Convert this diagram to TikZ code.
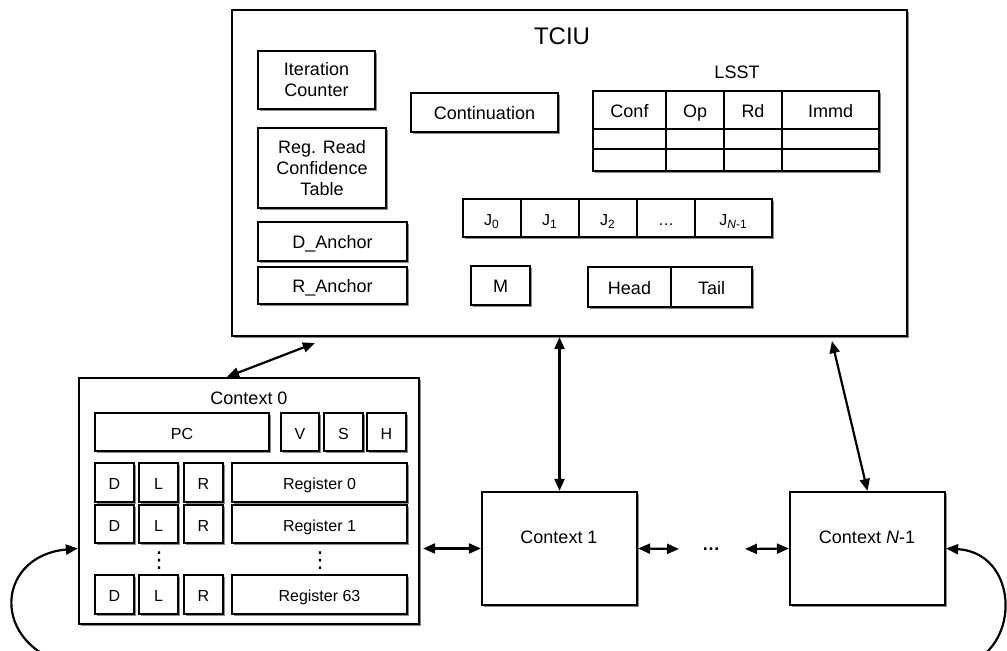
\documentclass[tikz,border=0pt]{standalone}
\usepackage{fontspec}
\setmainfont{Liberation Sans}
\newfontfamily\symfont{DejaVu Sans}
\usetikzlibrary{arrows.meta}
\usetikzlibrary{shadows}
\usetikzlibrary{calc}

\tikzset{
  blk/.style={draw, line width=1.1pt, fill=white, inner sep=0pt, align=center,
              font=\fontsize{9}{10.5}\selectfont, text height=1.38ex, text depth=0pt,
              drop shadow={shadow xshift=0.9pt, shadow yshift=-0.9pt, fill=black!45, opacity=1}},
  multi/.style={text height={}, text depth={}},
  cell/.style={blk, line width=0.8pt},
  bw/.style={minimum width=#1},
  bh/.style={minimum height=#1},
  reg/.style={font=\fontsize{8}{9.5}\selectfont},
  lbl/.style={inner sep=0pt, font=\fontsize{9}{10.5}\selectfont},
  lnk/.style={line width=1.1pt, {Triangle[length=6pt,width=5pt]}-{Triangle[length=6pt,width=5pt]}},
}

\begin{document}
\begin{tikzpicture}[x=0.5pt, y=-0.5pt]
\useasboundingbox (0,0) rectangle (1007,651);

\node[blk, bw=337.5pt, bh=163pt]  (tciu)  at (569.5,173)   {};
\node[lbl, font=\fontsize{12}{14}\selectfont] (tciulbl) at (562,36) {TCIU};
\node[blk, multi, bw=58.5pt, bh=29pt] (itc)  at (316.5,80) {Iteration\\Counter};
\node[blk, bw=73.5pt, bh=19.5pt]  (cont)  at (484.5,112.5) {Continuation};
\node[blk, multi, bw=64pt, bh=40pt]   (rrct) at (322,168)  {Reg. Read\\Confidence\\Table};
\node[blk, bw=74.5pt, bh=19.5pt]  (danc)  at (332.5,241.5) {D\_Anchor};
\node[blk, bw=74.5pt, bh=18.5pt]  (ranc)  at (332.5,285.5) {R\_Anchor};
\node[blk, bw=29.5pt, bh=19.5pt]  (m)     at (500.5,285.5) {M};
\node[blk, bw=41.5pt, bh=20pt]    (head)  at (629.5,287)   {Head};
\node[blk, bw=40.5pt, bh=20pt]    (tail)  at (711.5,287)   {Tail};

\node[cell, reg, bw=29pt,   bh=19pt] (j0)    at (492,218)   {J\textsubscript{0}};
\node[cell, reg, bw=29pt,   bh=19pt] (j1)    at (550,218)   {J\textsubscript{1}};
\node[cell, reg, bw=29pt,   bh=19pt] (j2)    at (608,218)   {J\textsubscript{2}};
\node[cell, reg, bw=29pt,   bh=19pt] (jdots) at (666,218)   {\ldots};
\node[cell, reg, bw=38.5pt, bh=19pt] (jn)    at (733.5,218) {J\textsubscript{\textit{N}-1}};

\node[lbl] (lsstlbl) at (737,72) {LSST};
\node[cell, bw=36.5pt, bh=19pt]  (conf)  at (629.5,110) {Conf};
\node[cell, bw=29pt,   bh=19pt]  (op)    at (695,110)   {Op};
\node[cell, bw=29pt,   bh=19pt]  (rd)    at (753,110)   {Rd};
\node[cell, bw=48.5pt, bh=19pt]  (immd)  at (830.5,110) {Immd};
\node[cell, bw=36.5pt, bh=10pt]  (confa) at (629.5,139) {};
\node[cell, bw=29pt,   bh=10pt]  (opa)   at (695,139)   {};
\node[cell, bw=29pt,   bh=10pt]  (rda)   at (753,139)   {};
\node[cell, bw=48.5pt, bh=10pt]  (immda) at (830.5,139) {};
\node[cell, bw=36.5pt, bh=11pt]  (confb) at (629.5,160) {};
\node[cell, bw=29pt,   bh=11pt]  (opb)   at (695,160)   {};
\node[cell, bw=29pt,   bh=11pt]  (rdb)   at (753,160)   {};
\node[cell, bw=48.5pt, bh=11pt]  (immdb) at (830.5,160) {};

\node[blk, bw=170pt, bh=123pt]        (ctx0)  at (249,501)     {};
\node[lbl] (ctx0lbl) at (249,398) {Context 0};
\node[blk, reg, bw=87pt,   bh=19pt]   (pc)    at (182,432)     {PC};
\node[blk, reg, bw=19pt,   bh=19pt]   (v)     at (300,432)     {V};
\node[blk, reg, bw=19.5pt, bh=19pt]   (s)     at (343.5,432)   {S};
\node[blk, reg, bw=19.5pt, bh=19pt]   (h)     at (386.5,432)   {H};

\node[blk, reg, bw=19.5pt, bh=19.5pt] (d0)    at (114.5,482.5) {D};
\node[blk, reg, bw=19.5pt, bh=19.5pt] (l0)    at (158.5,482.5) {L};
\node[blk, reg, bw=19.5pt, bh=19.5pt] (r0)    at (203.5,482.5) {R};
\node[blk, reg, bw=87.5pt, bh=19.5pt] (reg0)  at (319.5,482.5) {Register 0};
\node[blk, reg, bw=19.5pt, bh=19pt]   (d1)    at (114.5,524)   {D};
\node[blk, reg, bw=19.5pt, bh=19pt]   (l1)    at (158.5,524)   {L};
\node[blk, reg, bw=19.5pt, bh=19pt]   (r1)    at (203.5,524)   {R};
\node[blk, reg, bw=87.5pt, bh=19pt]   (reg1)  at (319.5,524)   {Register 1};
\node[lbl, font=\fontsize{11}{13}\symfont] (vd1) at (159,561) {⋮};
\node[lbl, font=\fontsize{11}{13}\symfont] (vd2) at (320,561) {⋮};
\node[blk, reg, bw=19.5pt, bh=19.5pt] (d63)   at (114.5,594.5) {D};
\node[blk, reg, bw=19.5pt, bh=19.5pt] (l63)   at (158.5,594.5) {L};
\node[blk, reg, bw=19.5pt, bh=19.5pt] (r63)   at (203.5,594.5) {R};
\node[blk, reg, bw=87.5pt, bh=19.5pt] (reg63) at (319.5,594.5) {Register 63};

\node[blk, bw=77.5pt, bh=56.5pt]      (ctx1)  at (559.5,548.5) {};
\node[lbl] (ctx1lbl) at (559,537) {Context 1};
\node[lbl] (dots) at (711,549) {\textbf{\ldots}};
\node[blk, bw=77.5pt, bh=56.5pt]      (ctxn)  at (867.5,548.5) {};
\node[lbl] (ctxnlbl) at (867,537) {Context \textit{N}-1};

\coordinate (ea) at (679,549);
\coordinate (eb) at (745,549);

\draw[lnk] ($(ctx0.north)+(-22,0)$) -- ($(tciu.south west)+(84,6)$);
\draw[lnk] (ctx1.north) -- (ctx1.north |- tciu.south);
\draw[lnk] (ctxn.north) -- ($(tciu.south west)+(601,4)$);
\draw[lnk] ($(ctx0.east |- ctx1.west)+(3,0)$) -- (ctx1.west);
\draw[lnk] (ctx1.east) -- (ea);
\draw[lnk] (eb) -- (ctxn.west);
\draw[lnk] (ctxn.east) .. controls (1025,553) and (1022,668) .. (945,668)
           -- (85,668) .. controls (-12,655) and (-8,556) .. (ctx0.west |- ctxn.east);
\end{tikzpicture}
\end{document}
